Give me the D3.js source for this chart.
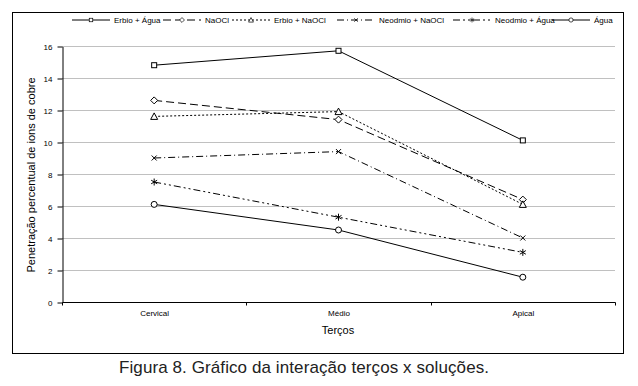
<!DOCTYPE html>
<html><head><meta charset="utf-8">
<script src="https://cdn.jsdelivr.net/npm/d3@7"></script>
<style>body{margin:0;background:#fff}svg{display:block}text{font-family:"Liberation Sans",Arial,sans-serif}</style>
</head><body><svg id="c" width="638" height="386"></svg>
<script>
const categories = ["Cervical", "Médio", "Apical"];
const seriesNames = ["Erbio + Água", "NaOCl", "Erbio + NaOCl", "Neodmio + NaOCl", "Neodmio + Água", "Água"];
const erbioAgua = [14.8, 15.7, 10.1];
const naocl = [12.6, 11.4, 6.4];
const erbioNaocl = [11.6, 11.9, 6.1];
const neodmioNaocl = [9.0, 9.4, 4.0];
const neodmioAgua = [7.5, 5.3, 3.1];
const agua = [6.1, 4.5, 1.55];
const yTicks = [0, 2, 4, 6, 8, 10, 12, 14, 16];

const seriesValues = [erbioAgua, naocl, erbioNaocl, neodmioNaocl, neodmioAgua, agua];
const dashes = [null, "8,4", "2,2", "7,3,1,3", "7,3,2,3,2,3", null];
const markers = ["square", "diamond", "triangle", "x", "asterisk", "circle"];

const svg = d3.select("#c");
const X0 = 62, X1 = 615, Y0 = 302, Y1 = 46;
const x = d3.scalePoint().domain(categories).range([X0, X1]).padding(0.5);
const y = d3.scaleLinear().domain([0, 16]).range([Y0, Y1]);

// frame
svg.append("rect").attr("x", 12.5).attr("y", 12.5).attr("width", 611).attr("height", 341)
  .attr("fill", "none").attr("stroke", "#000");

// gridlines
svg.append("g").selectAll("line").data(yTicks.filter(d => d > 0)).join("line")
  .attr("x1", X0).attr("x2", X1).attr("y1", d => y(d) + 0.5).attr("y2", d => y(d) + 0.5)
  .attr("stroke", "#c0c0c0");

// y axis
const yAxis = svg.append("g").attr("transform", `translate(${X0 + 0.5},0.5)`)
  .call(d3.axisLeft(y).tickValues(yTicks).tickSize(5).tickSizeOuter(0).tickPadding(5));
yAxis.select(".domain").attr("stroke", "#000");
yAxis.selectAll("text").attr("font-size", 8).attr("font-family", "Liberation Sans, Arial, sans-serif").attr("fill", "#000");

// x axis
const xb = d3.scaleLinear().domain([0, categories.length]).range([X0, X1]);
const xAxisG = svg.append("g").attr("transform", `translate(0.5,${Y0 + 0.5})`);
xAxisG.append("line").attr("x1", X0).attr("x2", X1).attr("stroke", "#000");
xAxisG.selectAll("line.tk").data(d3.range(categories.length + 1)).join("line").attr("class", "tk")
  .attr("x1", d => Math.round(xb(d))).attr("x2", d => Math.round(xb(d))).attr("y1", 0).attr("y2", 3).attr("stroke", "#000");
xAxisG.selectAll("text").data(categories).join("text")
  .attr("x", d => x(d)).attr("y", 13).attr("text-anchor", "middle").attr("font-size", 8).text(d => d);

// axis titles
svg.append("text").attr("x", 338).attr("y", 334).attr("text-anchor", "middle").attr("font-size", 11).text("Terços");
svg.append("text").attr("transform", `translate(35,175) rotate(-90)`).attr("text-anchor", "middle")
  .attr("font-size", 11).text("Penetração percentual de ions de cobre");

// caption
svg.append("text").attr("x", 304).attr("y", 373).attr("text-anchor", "middle").attr("font-size", 17)
  .attr("textLength", 370).attr("lengthAdjust", "spacing")
  .attr("fill", "#222").text("Figura 8. Gráfico da interação terços x soluções.");

function drawMarker(g, type, cx, cy) {
  const s = g.append("g").attr("transform", `translate(${cx},${cy})`).attr("stroke", "#000").attr("fill", "#fff").attr("stroke-width", 1);
  if (type === "square") s.append("rect").attr("x", -2.5).attr("y", -2.5).attr("width", 5).attr("height", 5);
  else if (type === "diamond") s.append("path").attr("d", "M0,-3.5L3.5,0L0,3.5L-3.5,0Z");
  else if (type === "triangle") s.append("path").attr("d", "M0,-3.5L3.5,3L-3.5,3Z");
  else if (type === "x") s.append("path").attr("d", "M-2.5,-2.5L2.5,2.5M2.5,-2.5L-2.5,2.5");
  else if (type === "asterisk") s.append("path").attr("d", "M0,-3.5V3.5M-3,-1.8L3,1.8M3,-1.8L-3,1.8");
  else if (type === "circle") s.append("circle").attr("r", 3);
}

const line = d3.line().x((d, i) => x(categories[i])).y(d => y(d));
seriesValues.forEach((vals, k) => {
  const g = svg.append("g");
  g.append("path").datum(vals).attr("d", line).attr("fill", "none").attr("stroke", "#000")
    .attr("stroke-width", 1).attr("stroke-dasharray", dashes[k]);
  vals.forEach((v, i) => drawMarker(g, markers[k], x(categories[i]), y(v)));
});

// legend
const legX = [72, 163, 232, 337, 453, 552];
const legY = 20;
seriesNames.forEach((name, k) => {
  const g = svg.append("g");
  const lx = legX[k];
  g.append("line").attr("x1", lx).attr("x2", lx + 38).attr("y1", legY).attr("y2", legY)
    .attr("stroke", "#000").attr("stroke-dasharray", dashes[k]);
  const m = g.append("g").attr("transform", `translate(${lx + 19},${legY}) scale(0.7)`);
  drawMarker(m, markers[k], 0, 0);
  g.append("text").attr("x", lx + 42).attr("y", legY + 3).attr("font-size", 8).text(name);
});
</script></body></html>
